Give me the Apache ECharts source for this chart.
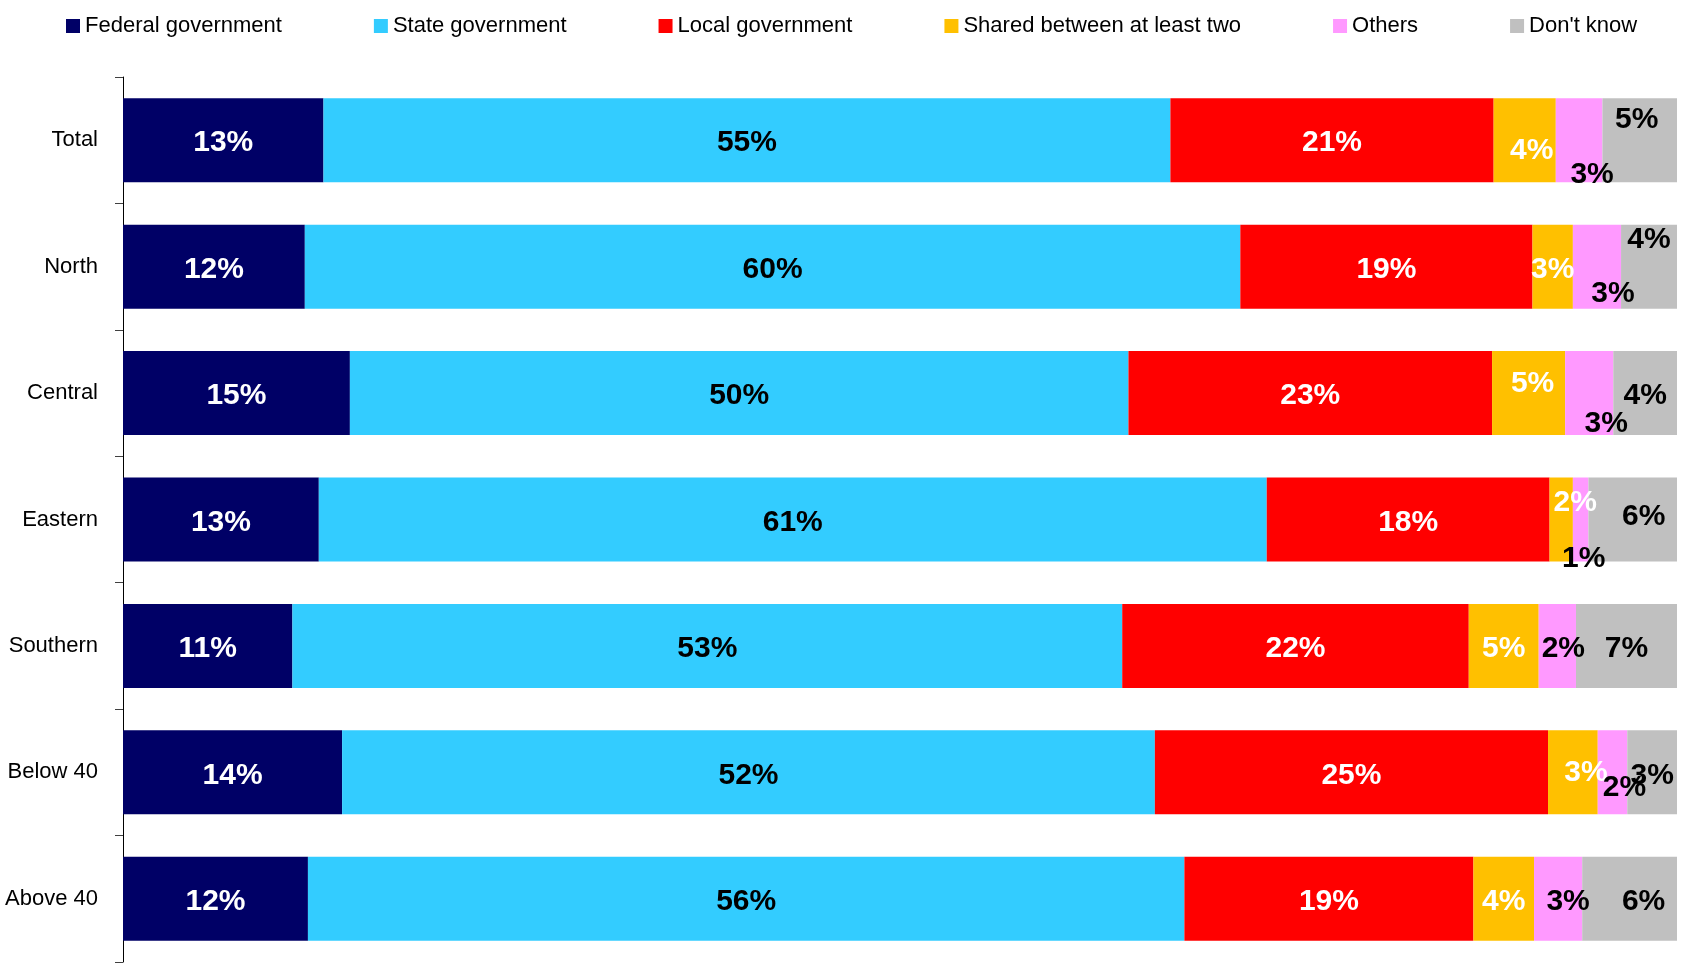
<!DOCTYPE html>
<html>
<head>
<meta charset="utf-8">
<script src="https://cdn.jsdelivr.net/npm/echarts@6/dist/echarts.min.js"></script>
<style>
html,body{margin:0;padding:0;background:#fff;}
#chart{width:1681px;height:966px;}
</style>
</head>
<body>
<div id="chart"></div>
<script>
// ---- data ----
const categories = ['Total', 'North', 'Central', 'Eastern', 'Southern', 'Below 40', 'Above 40'];
const seriesNames = ['Federal government', 'State government', 'Local government', 'Shared between at least two', 'Others', "Don't know"];
const federal = [12.9, 11.7, 14.6, 12.6, 10.9, 14.1, 11.9];
const state   = [54.5, 60.2, 50.1, 61.0, 53.4, 52.3, 56.4];
const local   = [20.8, 18.8, 23.4, 18.2, 22.3, 25.3, 18.6];
const shared  = [4.0, 2.6, 4.7, 1.5, 4.5, 3.2, 3.9];
const others  = [3.0, 3.1, 3.1, 1.0, 2.4, 1.9, 3.1];
const dontKnow = [4.8, 3.6, 4.1, 5.7, 6.5, 3.2, 6.1];

// ---- styling (not data) ----
const FONT = "'Liberation Sans Narrow', 'Arial Narrow', 'Liberation Sans', Arial, sans-serif";
const colors = ['#000066', '#33CCFF', '#FF0000', '#FFC000', '#FF99FF', '#C0C0C0'];
const labelColors = ['#ffffff', '#000000', '#ffffff', '#ffffff', '#000000', '#000000'];
const BASE_DY = 3;
// manual label nudges [dx, dy] per category, as in the original (only small segments)
const labelNudges = {
  3: [[7, 8], [0, 0], [4, -12], [14, -20], [0, 0], [13, -3], [0, 0]],
  4: [[13, 32], [16, 24], [17, 28], [3, 36], [6, 0], [12, 12], [10, 0]],
  5: [[-3, -23], [0, -30], [0, 0], [11, -6], [0, 0], [0, 0], [14, 0]]
};

const allValues = [federal, state, local, shared, others, dontKnow];

const series = allValues.map((vals, si) => ({
  name: seriesNames[si],
  type: 'bar',
  stack: 'total',
  barWidth: 84,
  itemStyle: { color: colors[si] },
  label: {
    show: true,
    position: 'inside',
    offset: [0, BASE_DY],
    formatter: p => Math.round(p.value) + '%',
    color: labelColors[si],
    fontFamily: FONT,
    fontWeight: 'bold',
    fontSize: 30
  },
  data: vals.map((v, ci) => {
    const nudge = labelNudges[si] ? labelNudges[si][ci] : null;
    return nudge ? { value: v, label: { offset: [nudge[0], nudge[1] + BASE_DY] } } : { value: v };
  })
}));

const chart = echarts.init(document.getElementById('chart'), null, { renderer: 'canvas' });
chart.setOption({
  animation: false,
  backgroundColor: '#ffffff',
  textStyle: { fontFamily: FONT },
  legend: {
    left: 61,
    top: 10,
    width: 1615,
    itemWidth: 14,
    itemHeight: 14,
    itemGap: 92,
    icon: 'rect',
    textStyle: { fontFamily: FONT, fontSize: 22, color: '#000' },
    data: seriesNames
  },
  grid: { left: 123, right: 4, top: 77, bottom: 4, containLabel: false, outerBoundsMode: 'none' },
  xAxis: {
    type: 'value',
    min: 0,
    max: 100,
    show: false
  },
  yAxis: {
    type: 'category',
    inverse: true,
    data: categories,
    axisLine: { show: true, lineStyle: { color: '#000', width: 1 } },
    axisTick: { show: true, length: 8, inside: false, lineStyle: { color: '#404040' } },
    axisLabel: { fontFamily: FONT, fontSize: 22, color: '#000', margin: 25 },
    splitLine: { show: false }
  },
  series: series
});
</script>
</body>
</html>
